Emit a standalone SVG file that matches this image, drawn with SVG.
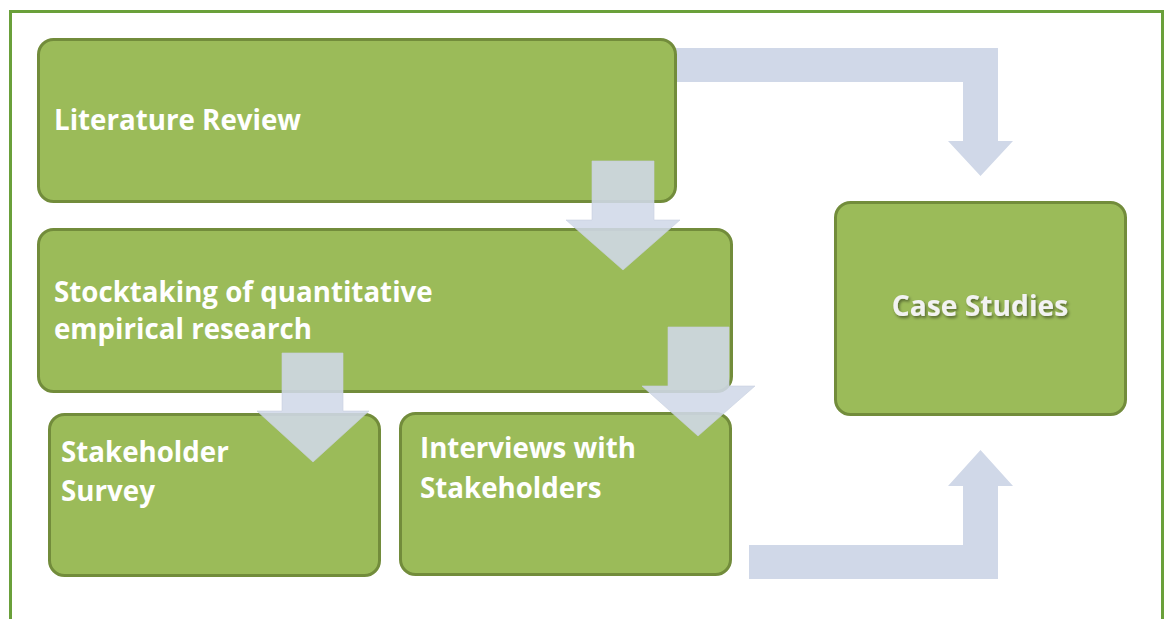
<svg xmlns="http://www.w3.org/2000/svg" width="1168" height="619" viewBox="0 0 1168 619">
<defs>
<style>
.box{fill:#9bbb59;stroke:#728c3b;stroke-width:3}
.lbl{font-family:"Open Sans","Liberation Sans",sans-serif;font-weight:bold;font-size:27.7px;fill:#ffffff}
.arr{fill:#d0d8e8;fill-opacity:0.88;stroke:#c8d0e0;stroke-width:1;stroke-opacity:0.6}
.band{fill:#d0d8e8}
</style>
<filter id="sh" x="-20%" y="-50%" width="140%" height="200%">
<feDropShadow dx="1.5" dy="2" stdDeviation="1.5" flood-color="#000" flood-opacity="0.45"/>
</filter>
</defs>
<rect x="0" y="0" width="1168" height="619" fill="#ffffff"/>
<rect id="frame" x="10.5" y="11.5" width="1152" height="620" fill="none" stroke="#6aa03a" stroke-width="3"/>
<g id="connectors-back">
<path class="band" d="M676 48 H998 V141 H1013 L980.5 176 L948 141 H963 V82 H676 Z"/>
<path class="band" d="M749 545 H963 V486 H948 L980.5 450 L1013 486 H998 V579 H749 Z"/>
</g>
<g id="n-lit">
<rect class="box" x="38.5" y="39.5" width="637" height="162" rx="15"/>
<text class="lbl" x="54" y="130">Literature Review</text>
</g>
<g id="n-stock">
<rect class="box" x="38.5" y="229.5" width="693" height="162" rx="15"/>
<text class="lbl" x="54" y="302">Stocktaking of quantitative</text>
<text class="lbl" x="54" y="339">empirical research</text>
</g>
<g id="n-survey">
<rect class="box" x="49.5" y="414.5" width="330" height="161" rx="15"/>
<text class="lbl" x="61" y="462">Stakeholder</text>
<text class="lbl" x="61" y="501">Survey</text>
</g>
<g id="n-interviews">
<rect class="box" x="400.5" y="413.5" width="330" height="161" rx="15"/>
<text class="lbl" x="420" y="458">Interviews with</text>
<text class="lbl" x="420" y="498">Stakeholders</text>
</g>
<g id="n-case">
<rect class="box" x="835.5" y="202.5" width="290" height="212" rx="15"/>
<text class="lbl" x="980" y="316" text-anchor="middle" style="fill:#f2f2f2;font-size:28.2px" filter="url(#sh)">Case Studies</text>
</g>
<g id="connectors">
<path class="arr" d="M592 161 H654 V220 H680 L623 270 L566 220 H592 Z"/>
<path class="arr" d="M668 327 H729 V386 H755 L698 436 L642 386 H668 Z"/>
<path class="arr" d="M282 353 H343 V411 H369 L313 462 L257 411 H282 Z"/>
</g>
</svg>
